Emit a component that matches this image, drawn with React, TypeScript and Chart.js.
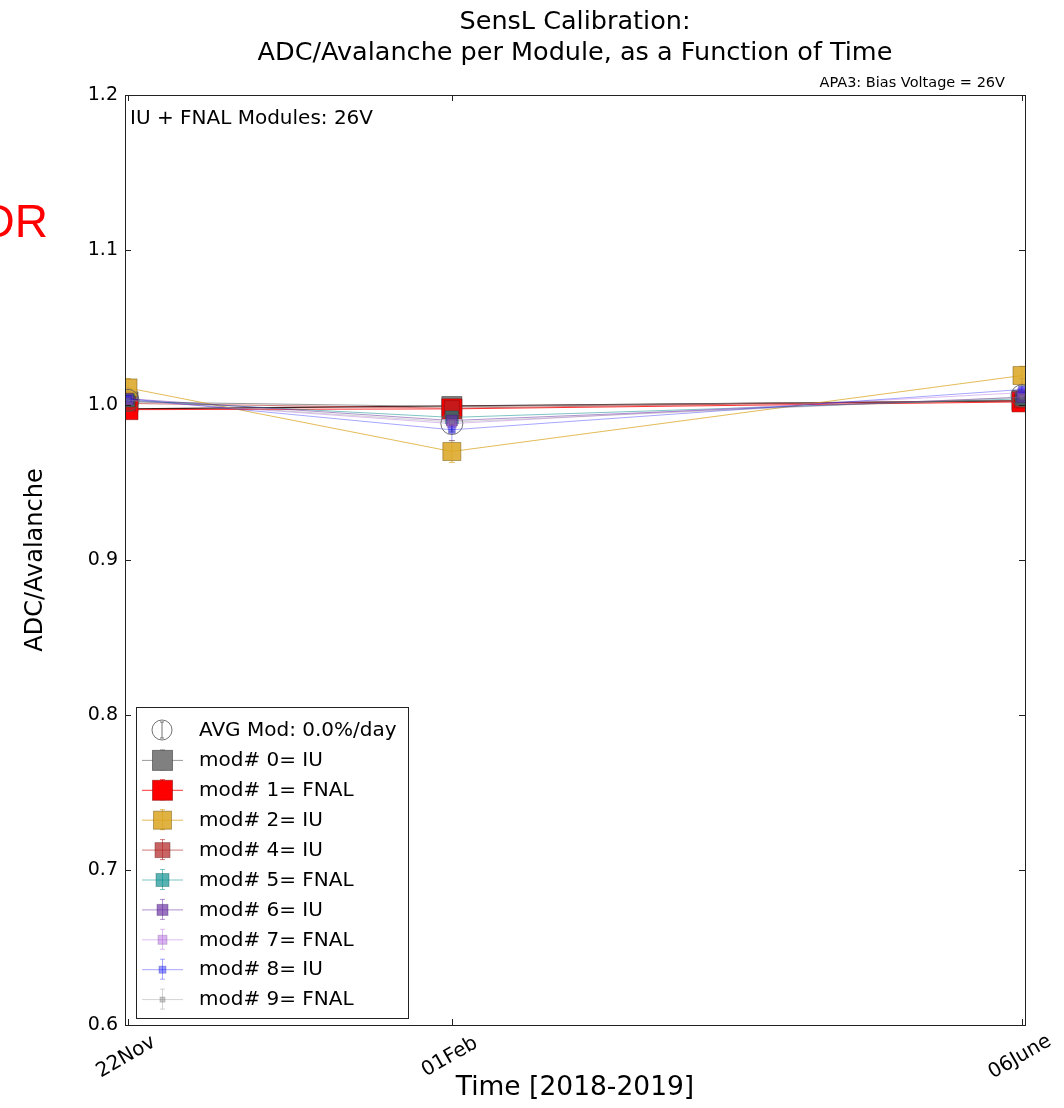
import React, { useEffect, useRef } from 'react';
import { Chart, registerables } from 'chart.js';

Chart.register(...registerables);

// ---------- data ----------
const xDays = [0, 71, 196]; // days since 22 Nov 2018
const xTickLabels = ['22Nov', '01Feb', '06June'];
const yTickValues = [0.6, 0.7, 0.8, 0.9, 1.0, 1.1, 1.2];

const moduleNames = [
  'mod# 0= IU',
  'mod# 1= FNAL',
  'mod# 2= IU',
  'mod# 4= IU',
  'mod# 5= FNAL',
  'mod# 6= IU',
  'mod# 7= FNAL',
  'mod# 8= IU',
  'mod# 9= FNAL',
];
const mod0 = [1.002, 0.999, 1.003];
const mod1 = [0.997, 0.9975, 1.002];
const mod2 = [1.011, 0.970, 1.019];
const mod4 = [1.001, 0.998, 1.003];
const mod5 = [1.003, 0.992, 1.004];
const mod6 = [1.004, 0.990, 1.005];
const mod7 = [1.003, 0.988, 1.008];
const mod8 = [1.004, 0.984, 1.010];
const mod9 = [1.003, 0.989, 1.005];
const moduleValues = [mod0, mod1, mod2, mod4, mod5, mod6, mod7, mod8, mod9];

const mod0Err = [0.004, 0.004, 0.004];
const mod1Err = [0.004, 0.004, 0.004];
const mod2Err = [0.006, 0.007, 0.006];
const mod4Err = [0.005, 0.005, 0.005];
const mod5Err = [0.005, 0.005, 0.005];
const mod6Err = [0.006, 0.006, 0.006];
const mod7Err = [0.006, 0.006, 0.006];
const mod8Err = [0.007, 0.007, 0.007];
const mod9Err = [0.007, 0.007, 0.007];
const moduleErrors = [mod0Err, mod1Err, mod2Err, mod4Err, mod5Err, mod6Err, mod7Err, mod8Err, mod9Err];

const avgLabel = 'AVG Mod: 0.0%/day';
const avgValues = [1.003, 0.988, 1.006];
const avgErrors = [0.004, 0.005, 0.004];

const fitDays = [0, 196];
const fitValues = [0.9975, 1.0026];

// ---------- styles ----------
const FONT = "'DejaVu Sans', sans-serif";
const markerSides = [20, 20, 18, 15, 13, 11, 9, 7, 5];
const fillColors = [
  'rgba(128,128,128,1)',
  'rgba(255,0,0,1)',
  'rgba(218,165,32,0.85)',
  'rgba(178,34,34,0.7)',
  'rgba(0,139,139,0.65)',
  'rgba(100,40,160,0.65)',
  'rgba(170,90,220,0.45)',
  'rgba(0,0,255,0.4)',
  'rgba(128,128,128,0.4)',
];
const lineColors = [
  'rgba(128,128,128,0.8)',
  'rgba(255,0,0,0.8)',
  'rgba(218,165,32,0.75)',
  'rgba(178,34,34,0.6)',
  'rgba(0,139,139,0.5)',
  'rgba(100,40,160,0.5)',
  'rgba(170,90,220,0.4)',
  'rgba(0,0,255,0.35)',
  'rgba(128,128,128,0.35)',
];
const edgeColors = [
  'rgba(60,60,60,0.6)',
  'rgba(120,0,0,0.5)',
  'rgba(120,90,20,0.5)',
  'rgba(100,20,20,0.4)',
  'rgba(0,80,80,0.35)',
  'rgba(60,20,100,0.35)',
  'rgba(100,50,130,0.25)',
  'rgba(0,0,150,0.25)',
  'rgba(80,80,80,0.25)',
];

const decorPlugin = {
  id: 'decor',
  beforeDatasetsDraw(chart: any) {
    const ctx = chart.ctx;
    const yScale = chart.scales.y;
    ctx.save();
    chart.data.datasets.forEach((ds: any, i: number) => {
      if (!ds.errors) return;
      const meta = chart.getDatasetMeta(i);
      meta.data.forEach((el: any, j: number) => {
        const v = ds.data[j].y;
        const e = ds.errors[j];
        const y1 = yScale.getPixelForValue(v + e);
        const y2 = yScale.getPixelForValue(v - e);
        ctx.strokeStyle = ds.errColor;
        ctx.lineWidth = 1;
        ctx.beginPath();
        ctx.moveTo(el.x, y1);
        ctx.lineTo(el.x, y2);
        ctx.moveTo(el.x - 3, y1);
        ctx.lineTo(el.x + 3, y1);
        ctx.moveTo(el.x - 3, y2);
        ctx.lineTo(el.x + 3, y2);
        ctx.stroke();
      });
    });
    ctx.restore();
  },
  afterDraw(chart: any) {
    const ctx = chart.ctx;
    const { left, right, top, bottom } = chart.chartArea;
    const xScale = chart.scales.x;
    const yScale = chart.scales.y;
    ctx.save();

    // frame
    ctx.strokeStyle = '#222';
    ctx.lineWidth = 1;
    ctx.strokeRect(Math.round(left) + 0.5, Math.round(top) + 0.5, Math.round(right - left), Math.round(bottom - top));

    // inward ticks
    ctx.beginPath();
    const tl = 6;
    yTickValues.forEach((v) => {
      const py = Math.round(yScale.getPixelForValue(v)) + 0.5;
      ctx.moveTo(left, py);
      ctx.lineTo(left + tl, py);
      ctx.moveTo(right, py);
      ctx.lineTo(right - tl, py);
    });
    xDays.forEach((d) => {
      const px = Math.round(xScale.getPixelForValue(d)) + 0.5;
      ctx.moveTo(px, bottom);
      ctx.lineTo(px, bottom - tl);
      ctx.moveTo(px, top);
      ctx.lineTo(px, top + tl);
    });
    ctx.stroke();

    // rotated x tick labels
    ctx.fillStyle = '#000';
    ctx.font = `20px ${FONT}`;
    ctx.textAlign = 'center';
    ctx.textBaseline = 'middle';
    xDays.forEach((d, i) => {
      const px = xScale.getPixelForValue(d);
      ctx.save();
      ctx.translate(px - 2, bottom + 32);
      ctx.rotate(-Math.PI / 6);
      ctx.fillText(xTickLabels[i], 0, 0);
      ctx.restore();
    });

    // titles
    const cx = (left + right) / 2;
    ctx.font = `25.5px ${FONT}`;
    ctx.textBaseline = 'middle';
    ctx.fillText('SensL Calibration:', cx, 22);
    ctx.fillText('ADC/Avalanche per Module, as a Function of Time', cx, 53);

    ctx.font = `14.5px ${FONT}`;
    ctx.textAlign = 'right';
    ctx.textBaseline = 'alphabetic';
    ctx.fillText('APA3: Bias Voltage = 26V', right - 20, 87);

    ctx.font = `20px ${FONT}`;
    ctx.textAlign = 'left';
    ctx.fillText('IU + FNAL Modules: 26V', left + 5, top + 29);

    ctx.font = `46px 'Liberation Sans', ${FONT}`;
    ctx.fillStyle = '#ff0000';
    ctx.textAlign = 'right';
    ctx.fillText('DR', 48, 237);

    // legend
    const lx0 = 136, ly0 = 707, lx1 = 408, ly1 = 1018;
    ctx.fillStyle = '#fff';
    ctx.fillRect(lx0, ly0, lx1 - lx0, ly1 - ly0);
    ctx.strokeStyle = '#222';
    ctx.strokeRect(lx0 + 0.5, ly0 + 0.5, lx1 - lx0, ly1 - ly0);
    const mx = 162;
    const rowY = (i: number) => 730 + 29.9 * i;
    ctx.font = `20px ${FONT}`;
    ctx.textAlign = 'left';
    ctx.textBaseline = 'middle';

    // avg entry
    {
      const y = rowY(0);
      ctx.strokeStyle = 'rgba(90,90,90,0.85)';
      ctx.lineWidth = 1;
      ctx.beginPath();
      ctx.arc(mx, y, 10, 0, Math.PI * 2);
      ctx.stroke();
      ctx.beginPath();
      ctx.moveTo(mx, y - 8);
      ctx.lineTo(mx, y + 8);
      ctx.moveTo(mx - 2, y - 8);
      ctx.lineTo(mx + 2, y - 8);
      ctx.moveTo(mx - 2, y + 8);
      ctx.lineTo(mx + 2, y + 8);
      ctx.stroke();
      ctx.fillStyle = '#000';
      ctx.fillText(avgLabel, 199, y + 1);
    }
    moduleNames.forEach((name, i) => {
      const y = rowY(i + 1);
      ctx.strokeStyle = lineColors[i];
      ctx.lineWidth = 1;
      ctx.beginPath();
      ctx.moveTo(142, y + 0.5);
      ctx.lineTo(183, y + 0.5);
      ctx.moveTo(mx + 0.5, y - 10);
      ctx.lineTo(mx + 0.5, y + 10);
      ctx.moveTo(mx - 2, y - 10);
      ctx.lineTo(mx + 3, y - 10);
      ctx.moveTo(mx - 2, y + 10);
      ctx.lineTo(mx + 3, y + 10);
      ctx.stroke();
      const s = markerSides[i];
      ctx.fillStyle = fillColors[i];
      ctx.fillRect(mx - s / 2 + 0.5, y - s / 2 + 0.5, s, s);
      ctx.strokeStyle = edgeColors[i];
      ctx.strokeRect(mx - s / 2 + 0.5, y - s / 2 + 0.5, s, s);
      ctx.fillStyle = '#000';
      ctx.fillText(name, 199, y + 1);
    });

    ctx.restore();
  },
};

export default function App() {
  const ref = useRef<HTMLCanvasElement>(null);

  useEffect(() => {
    const canvas = ref.current;
    if (!canvas) return;

    const datasets: any[] = [];
    datasets.push({
      label: 'fit',
      data: fitDays.map((d, i) => ({ x: d, y: fitValues[i] })),
      showLine: true,
      borderColor: 'rgba(50,0,0,0.9)',
      borderWidth: 1.2,
      pointRadius: 0,
      order: 200,
    });
    moduleValues.forEach((vals, i) => {
      datasets.push({
        label: moduleNames[i],
        data: xDays.map((d, j) => ({ x: d, y: vals[j] })),
        showLine: true,
        borderColor: lineColors[i],
        backgroundColor: fillColors[i],
        borderWidth: 1,
        pointStyle: 'rect',
        pointRadius: markerSides[i] / Math.SQRT2,
        pointBackgroundColor: fillColors[i],
        pointBorderColor: edgeColors[i],
        pointBorderWidth: 1,
        order: 100 - i,
        errors: moduleErrors[i],
        errColor: lineColors[i],
      });
    });
    datasets.push({
      label: avgLabel,
      data: xDays.map((d, j) => ({ x: d, y: avgValues[j] })),
      showLine: false,
      pointStyle: 'circle',
      pointRadius: 11,
      pointBackgroundColor: 'rgba(0,0,0,0)',
      pointBorderColor: 'rgba(90,90,90,0.85)',
      pointBorderWidth: 1,
      order: 0,
      errors: avgErrors,
      errColor: 'rgba(90,90,90,0.6)',
    });

    const chart = new Chart(canvas, {
      type: 'scatter',
      data: { datasets },
      options: {
        responsive: false,
        animation: false,
        devicePixelRatio: 1,
        layout: { padding: { left: 0, right: 39, top: 95, bottom: 0 } },
        plugins: {
          legend: { display: false },
          tooltip: { enabled: false },
        },
        scales: {
          x: {
            type: 'linear',
            min: -0.66,
            max: 196.66,
            afterBuildTicks: (s: any) => {
              s.ticks = xDays.map((v) => ({ value: v }));
            },
            afterFit: (s: any) => {
              s.height = 83;
            },
            grid: { display: false, drawTicks: false },
            border: { display: false },
            ticks: { display: false },
            title: {
              display: true,
              text: 'Time [2018-2019]',
              color: '#000',
              font: { family: FONT, size: 26.5 },
              padding: { top: 0, bottom: 4 },
            },
          },
          y: {
            type: 'linear',
            min: 0.6,
            max: 1.2,
            afterBuildTicks: (s: any) => {
              s.ticks = yTickValues.map((v) => ({ value: v }));
            },
            afterFit: (s: any) => {
              s.width = 125;
            },
            grid: { display: false, drawTicks: false },
            border: { display: false },
            ticks: {
              color: '#000',
              font: { family: FONT, size: 19 },
              padding: 7,
              callback: (v: any) => Number(v).toFixed(1),
            },
            title: {
              display: true,
              text: 'ADC/Avalanche',
              color: '#000',
              font: { family: FONT, size: 24 },
              padding: { top: 21, bottom: 0 },
            },
          },
        },
      } as any,
      plugins: [decorPlugin],
    });

    return () => chart.destroy();
  }, []);

  return (
    <div style={{ position: 'absolute', left: 0, top: 0, width: 1064, height: 1108, background: '#fff' }}>
      <canvas ref={ref} width={1064} height={1108} style={{ width: 1064, height: 1108, display: 'block' }} />
    </div>
  );
}
